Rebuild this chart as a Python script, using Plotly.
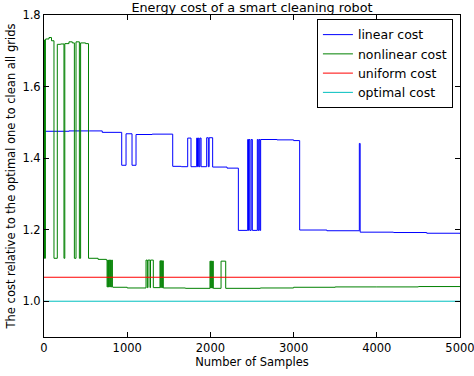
import plotly.graph_objects as go

# ---- data ----
linear_x = [0, 300, 550, 700, 934, 986, 1058, 1106, 1300, 1547, 1650, 1727, 1767, 1835, 1845, 1855,
            1865, 1875, 1888, 1955, 1975, 1985, 2027, 2200, 2336, 2448, 2458, 2465, 2475, 2490,
            2504, 2564, 2574, 2584, 2594, 2604, 2800, 3000, 3073, 3400, 3790, 3800, 4200, 4600, 5000]
linear_y = [1.475, 1.476, 1.476, 1.472, 1.380, 1.468, 1.380, 1.466, 1.467, 1.377, 1.376, 1.456, 1.376,
            1.456, 1.376, 1.456, 1.376, 1.456, 1.376, 1.457, 1.376, 1.457, 1.375, 1.372, 1.198, 1.452,
            1.198, 1.452, 1.198, 1.452, 1.198, 1.452, 1.198, 1.452, 1.198, 1.452, 1.451, 1.449, 1.199,
            1.197, 1.441, 1.193, 1.192, 1.190, 1.189]

nonlinear_x = [0, 4, 8, 12, 16, 20, 60, 90, 120, 160, 200, 240, 250, 300, 340, 365, 385, 425, 440,
               500, 535, 650, 750, 758, 766, 774, 782, 790, 798, 806, 814, 822, 830, 1000,
               1226, 1242, 1250, 1274, 1280, 1314, 1394, 1402, 1410, 1418, 1426, 1434,
               1700, 1995, 2003, 2011, 2019, 2027, 2035, 2128, 2184, 2600, 3000, 3500, 4000,
               4500, 5000]
nonlinear_y = [1.730, 1.120, 1.730, 1.120, 1.730, 1.733, 1.737, 1.728, 1.120, 1.718, 1.719, 1.120,
               1.720, 1.725, 1.722, 1.120, 1.725, 1.120, 1.722, 1.720, 1.120, 1.117, 1.115, 1.040,
               1.115, 1.040, 1.115, 1.040, 1.115, 1.040, 1.115, 1.040, 1.039, 1.037,
               1.115, 1.038, 1.115, 1.038, 1.115, 1.038, 1.113, 1.038, 1.113, 1.038, 1.113, 1.037,
               1.036, 1.112, 1.037, 1.112, 1.037, 1.112, 1.036, 1.112, 1.036, 1.037, 1.039,
               1.040, 1.040, 1.041, 1.041]

uniform_x = [0, 5000]
uniform_y = [1.067, 1.067]
optimal_x = [0, 5000]
optimal_y = [1.0, 1.0]

x_ticks = [0, 1000, 2000, 3000, 4000, 5000]
y_ticks = [1.0, 1.2, 1.4, 1.6, 1.8]

FONT = "DejaVu Sans"

fig = go.Figure()
fig.add_trace(go.Scatter(x=linear_x, y=linear_y, mode="lines", name="linear cost",
                         line=dict(color="#0000ff", width=1, shape="hv")))
fig.add_trace(go.Scatter(x=nonlinear_x, y=nonlinear_y, mode="lines", name="nonlinear cost",
                         line=dict(color="#008000", width=1, shape="hv")))
fig.add_trace(go.Scatter(x=uniform_x, y=uniform_y, mode="lines", name="uniform cost",
                         line=dict(color="#ff0000", width=1)))
fig.add_trace(go.Scatter(x=optimal_x, y=optimal_y, mode="lines", name="optimal cost",
                         line=dict(color="#00bfbf", width=1)))

axis_common = dict(showline=True, linecolor="black", linewidth=1, mirror="ticks",
                   ticks="inside", ticklen=5, tickcolor="black", tickwidth=1,
                   showgrid=False, zeroline=False, automargin=False,
                   ticklabeloverflow="allow",
                   tickfont=dict(family=FONT, size=11.5, color="black"))

fig.update_layout(
    width=474, height=376,
    margin=dict(l=44, r=14, t=15, b=39),
    paper_bgcolor="white", plot_bgcolor="white",
    font=dict(family=FONT, color="black"),
    title=dict(text="Energy cost of a smart cleaning robot", x=0.5316, xanchor="center",
               y=1 - 8 / 376, yanchor="middle", yref="container",
               font=dict(family=FONT, size=12.8, color="black")),
    xaxis=dict(range=[0, 5000], tickvals=x_ticks,
               title=dict(text="Number of Samples", font=dict(family=FONT, size=11.5), standoff=3),
               **axis_common),
    yaxis=dict(range=[0.9, 1.8], tickvals=y_ticks, ticktext=[f"{v:.1f}" for v in y_ticks],
               title=dict(text="The cost relative to the optimal one to clean all grids",
                          font=dict(family=FONT, size=11.5), standoff=4),
               **axis_common),
    legend=dict(x=0.983, y=0.9876, xanchor="right", yanchor="top",
                bgcolor="white", bordercolor="black", borderwidth=1,
                font=dict(family=FONT, size=12.5, color="black"),
                tracegroupgap=0),
    showlegend=True,
)

fig.write_html("out.html", config={"displayModeBar": False},
               post_script="document.body.style.margin='0px';")
